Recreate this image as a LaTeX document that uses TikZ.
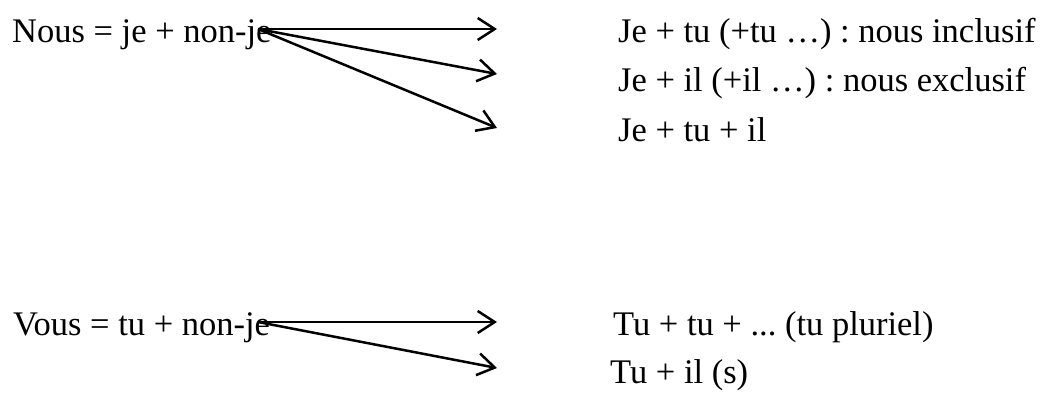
\documentclass[tikz,border=0pt]{standalone}
\usepackage{fontspec}
\setmainfont{Liberation Serif}
\usetikzlibrary{arrows.meta}
\frenchspacing

\begin{document}
\begin{tikzpicture}[x=1pt,y=-1pt,
  txt/.style={anchor=base west,inner sep=0pt,font=\fontsize{34.5}{40}\selectfont},
  fleche/.style={line width=2.5pt,-{Straight Barb[length=17pt,width=22pt,line width=2.5pt]}}]
\useasboundingbox (0,0) rectangle (1044,397);
\node[txt] (nous) at (12,42) {Nous = je + non-je};
\node[txt] (incl) at (618,42) {Je + tu (+tu …) : nous inclusif};
\node[txt] (excl) at (618,91) {Je + il (+il …) : nous exclusif};
\node[txt] (tous) at (618,141) {Je + tu + il};
\coordinate (n0) at (258,29);
\coordinate (n1) at (497,29);
\coordinate (n2) at (497,74);
\coordinate (n3) at (497,128);
\draw[fleche] (n0) -- (n1);
\draw[fleche] (n0) -- (n2);
\draw[fleche] (n0) -- (n3);
\node[txt] (vous) at (13,335) {Vous = tu + non-je};
\node[txt] (plur) at (613,335) {Tu + tu + ... (tu pluriel)};
\node[txt] (tuil) at (610,383) {Tu + il (s)};
\coordinate (v0) at (258,322);
\coordinate (v1) at (497,322);
\coordinate (v2) at (497,368);
\draw[fleche] (v0) -- (v1);
\draw[fleche] (v0) -- (v2);
\end{tikzpicture}
\end{document}
